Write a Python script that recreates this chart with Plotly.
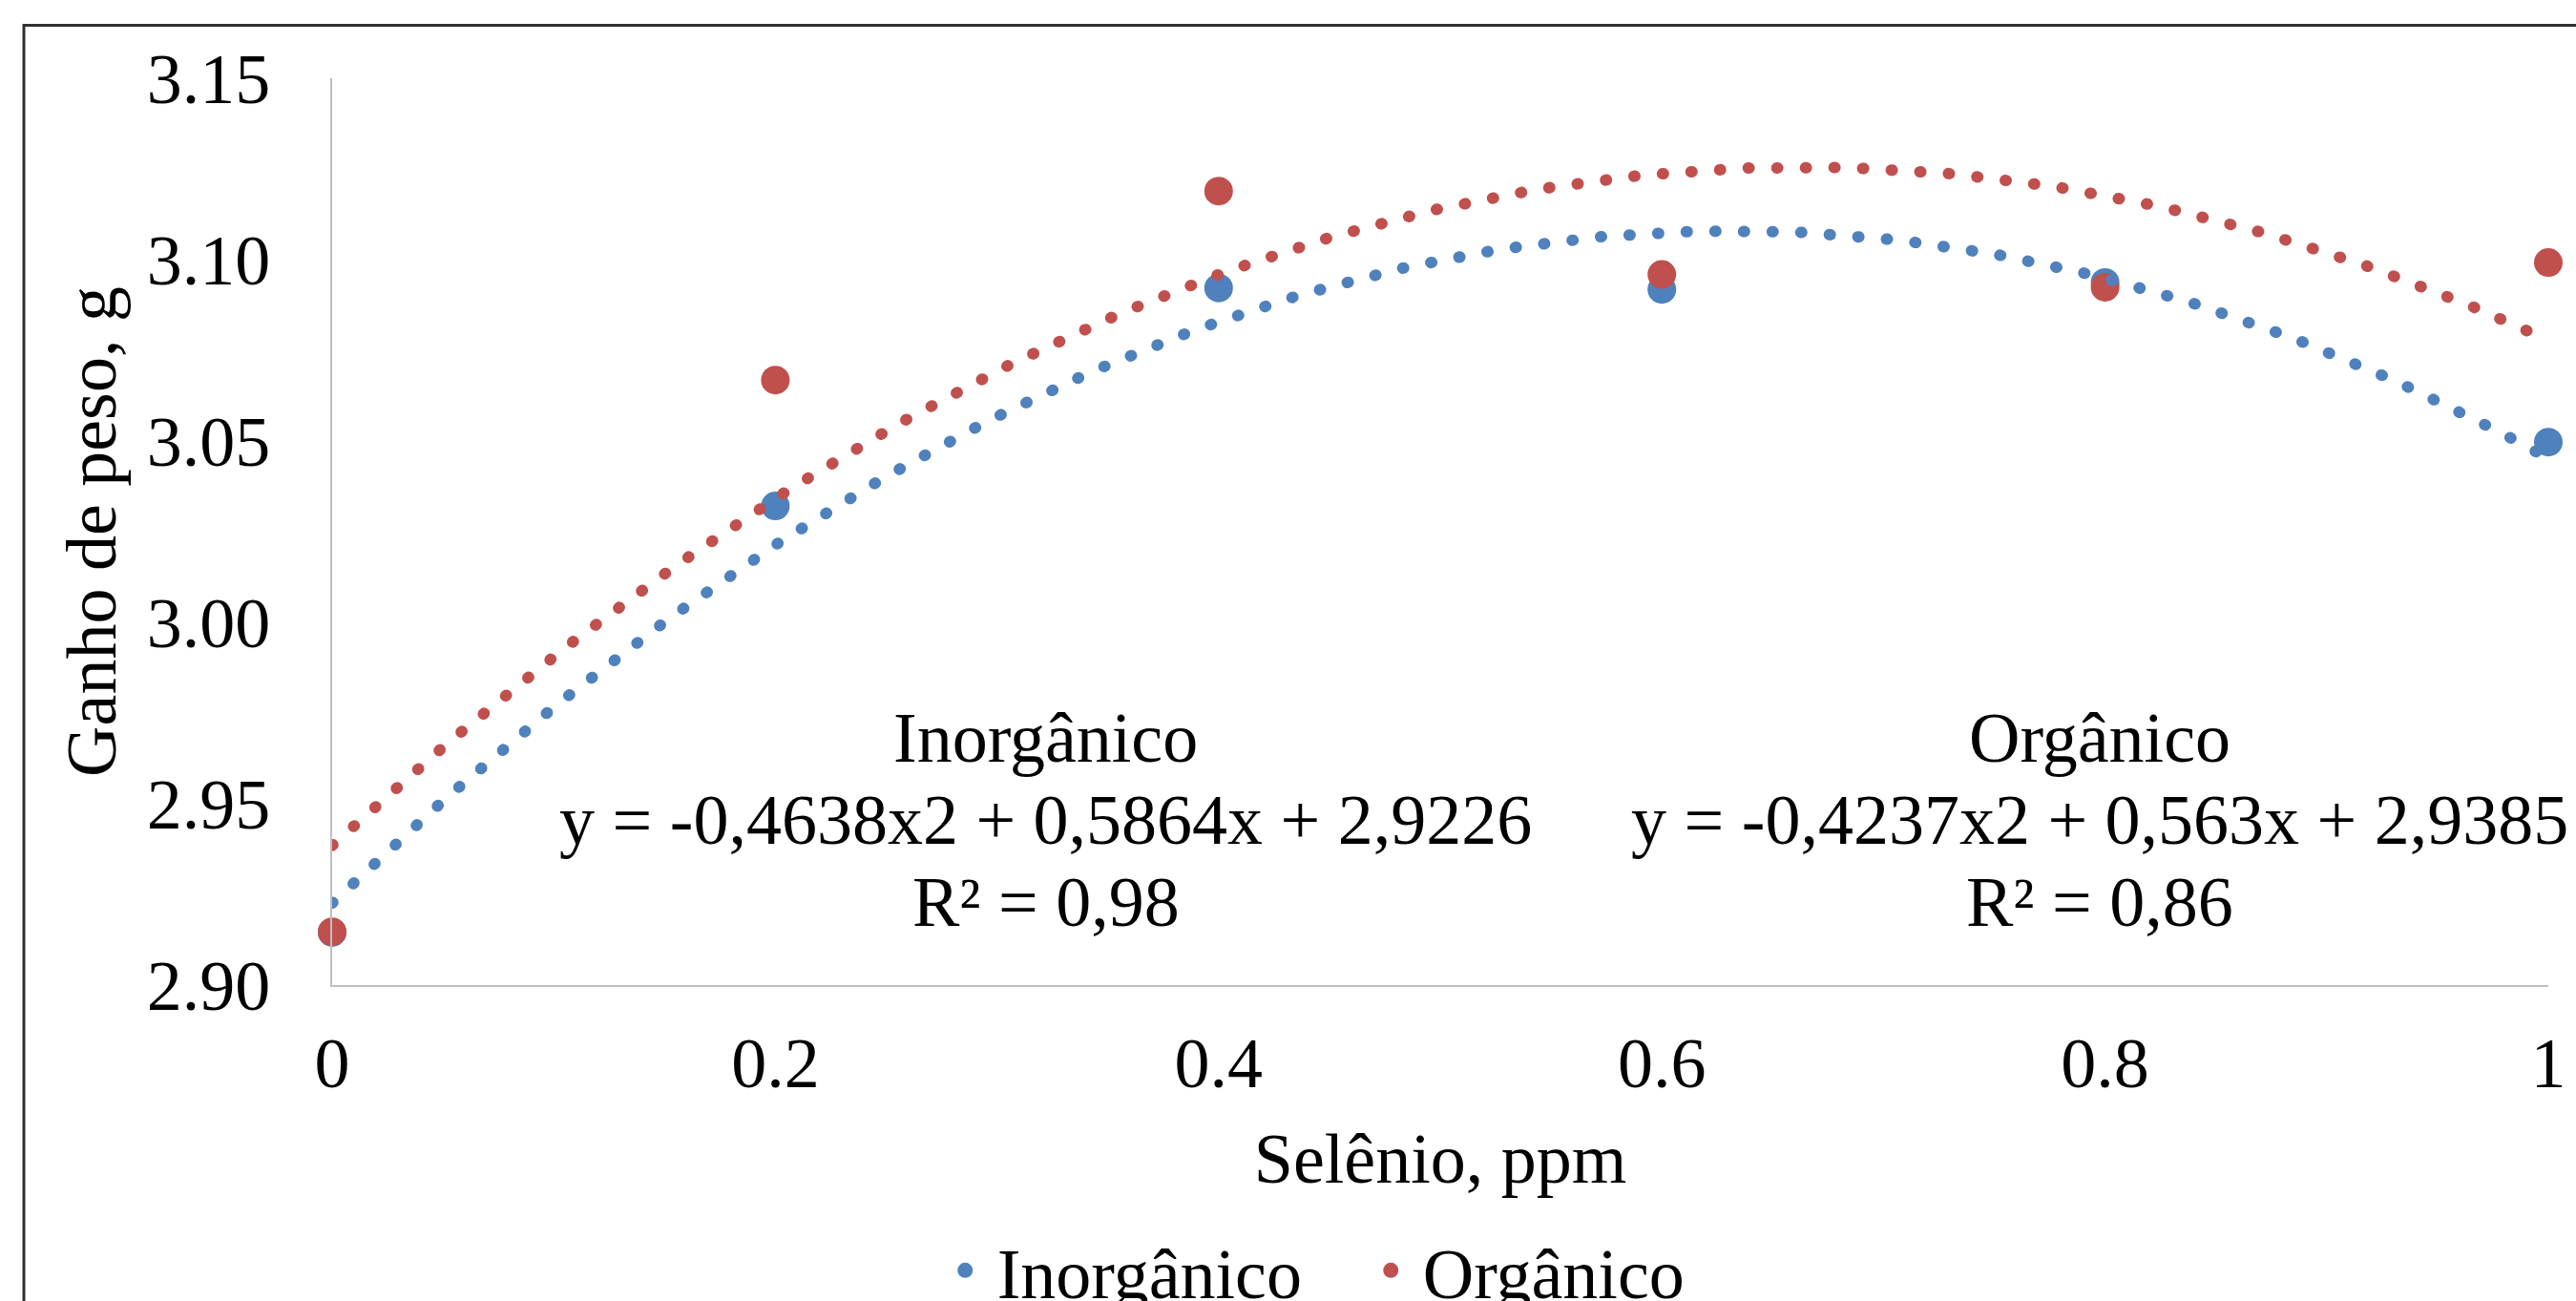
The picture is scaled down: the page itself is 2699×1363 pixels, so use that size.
import numpy as np
import plotly.graph_objects as go

# ---- data ----
selenio = [0, 0.2, 0.4, 0.6, 0.8, 1.0]
inorganico = [2.9145, 3.0321, 3.0922, 3.0918, 3.0937, 3.0497]
organico = [2.9147, 3.0668, 3.1189, 3.0959, 3.0924, 3.0992]

# trendline coefficients shown on the chart (a*x^2 + b*x + c)
coef_inorg = [-0.4638, 0.5864, 2.9226]
coef_org = [-0.4237, 0.563, 2.9385]

x_ticks = [0, 0.2, 0.4, 0.6, 0.8, 1.0]
x_ticktext = ["0", "0.2", "0.4", "0.6", "0.8", "1"]
y_ticks = [2.90, 2.95, 3.00, 3.05, 3.10, 3.15]

label_inorg = ["Inorgânico", "y = -0,4638x2 + 0,5864x + 2,9226", "R² = 0,98"]
label_org = ["Orgânico", "y = -0,4237x2 + 0,563x + 2,9385", "R² = 0,86"]

BLUE = "#4F81BD"
RED = "#C0504D"
FONT = "Liberation Serif"
FS = 74

xs = np.linspace(0, 1, 300)
trend_inorg = np.polyval(coef_inorg, xs)
trend_org = np.polyval(coef_org, xs)

fig = go.Figure()
fig.add_trace(go.Scatter(x=selenio, y=inorganico, mode="markers", name="Inorgânico",
                         marker=dict(color=BLUE, size=30), cliponaxis=False))
fig.add_trace(go.Scatter(x=selenio, y=organico, mode="markers", name="Orgânico",
                         marker=dict(color=RED, size=30), cliponaxis=False))
fig.add_trace(go.Scatter(x=xs, y=trend_inorg, mode="lines", showlegend=False,
                         line=dict(color=BLUE, width=12, dash="1px,29px"), cliponaxis=False,
                         hoverinfo="skip"))
fig.add_trace(go.Scatter(x=xs, y=trend_org, mode="lines", showlegend=False,
                         line=dict(color=RED, width=12, dash="1px,29px"), cliponaxis=False,
                         hoverinfo="skip"))

# equation labels, one line each (data coords)
line_y = [2.9682, 2.9455, 2.9229]
for xc, lines in ((0.322, label_inorg), (0.7976, label_org)):
    for yc, txt in zip(line_y, lines):
        fig.add_annotation(x=xc, y=yc, xref="x", yref="y", showarrow=False, text=txt,
                           font=dict(family=FONT, size=FS, color="black"),
                           xanchor="center", yanchor="middle")

# chart frame
fig.add_shape(type="rect", xref="paper", yref="paper", x0=-0.1391, x1=1.03, y0=-0.45, y1=1.0584,
              line=dict(color="#303030", width=3), fillcolor="rgba(0,0,0,0)", layer="above")

fig.update_layout(
    width=2699, height=1363,
    margin=dict(l=348, r=29, t=82, b=331, autoexpand=False),
    paper_bgcolor="white", plot_bgcolor="white",
    font=dict(family=FONT, size=FS, color="black"),
    showlegend=True,
    legend=dict(orientation="h", x=0.2712, xanchor="left", y=-0.315, yanchor="middle",
                font=dict(family=FONT, size=FS, color="black"), bgcolor="rgba(0,0,0,0)",
                itemsizing="trace", itemwidth=57, entrywidth=374),
    xaxis=dict(range=[0, 1], tickvals=x_ticks, ticktext=x_ticktext, showgrid=False,
               zeroline=False, showline=True, linecolor="#BFBFBF", linewidth=2, ticks="",
               ticklabelstandoff=16, automargin=False,
               title=dict(text="Selênio, ppm", standoff=33, font=dict(family=FONT, size=FS))),
    yaxis=dict(range=[2.90, 3.15], tickvals=y_ticks, tickformat=".2f", showgrid=False,
               zeroline=False, showline=True, linecolor="#BFBFBF", linewidth=2, ticks="",
               ticklabelstandoff=48, automargin=False,
               title=dict(text="Ganho de peso, g", standoff=8, font=dict(family=FONT, size=FS))),
)

post = ("document.body.style.margin='0';"
        "var s=document.createElement('style');"
        "s.innerHTML='body{margin:0 !important;} .scatterlayer .js-line{stroke-linecap:round !important;}';"
        "document.head.appendChild(s);")
fig.write_html("out.html", post_script=post, config={"displayModeBar": False})
